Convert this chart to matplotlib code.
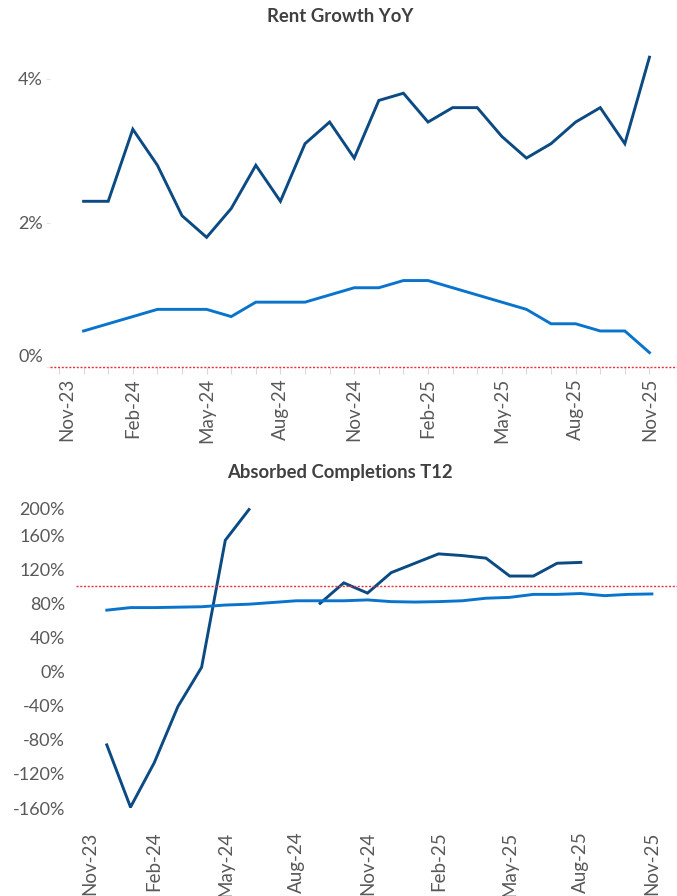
import numpy as np
import matplotlib.pyplot as plt
from matplotlib.transforms import ScaledTranslation

plt.rcParams['font.family'] = ['Lato', 'DejaVu Sans']

nan = np.nan

# categories, Nov-23 .. Nov-25
months = ["Nov-23", "Dec-23", "Jan-24", "Feb-24", "Mar-24", "Apr-24", "May-24",
          "Jun-24", "Jul-24", "Aug-24", "Sep-24", "Oct-24", "Nov-24", "Dec-24",
          "Jan-25", "Feb-25", "Mar-25", "Apr-25", "May-25", "Jun-25", "Jul-25",
          "Aug-25", "Sep-25", "Oct-25", "Nov-25"]

# Rent growth YoY (%)
rent_dark = [nan, 2.3, 2.3, 3.3, 2.8, 2.1, 1.8, 2.2, 2.8, 2.3, 3.1, 3.4, 2.9,
             3.7, 3.8, 3.4, 3.6, 3.6, 3.2, 2.9, 3.1, 3.4, 3.6, 3.1, 4.3]
rent_light = [nan, 0.5, 0.6, 0.7, 0.8, 0.8, 0.8, 0.7, 0.9, 0.9, 0.9, 1.0, 1.1,
              1.1, 1.2, 1.2, 1.1, 1.0, 0.9, 0.8, 0.6, 0.6, 0.5, 0.5, 0.2]

# Absorbed completions T12 (%)
abs_dark = [nan, -86, -159, -107, -41, 5, 154, 190, nan, nan, 80, 104, 92,
            116, 127, 138, 136, 133, 112, 112, 127, 128, nan, nan, nan]
abs_light = [nan, 72, 75, 75, 75.5, 76, 78, 79, 81, 83, 83, 83, 84,
             82, 81.5, 82, 83, 86, 87, 90.5, 90.5, 91.5, 89, 90.5, 91]

rent_yticks = [0, 2, 4]
abs_yticks = [-160, -120, -80, -40, 0, 40, 80, 120, 160, 200]

dark = "#0B4A82"
light = "#0A74CC"
red = "#E8303F"
grey = "#595959"

x = np.arange(len(months))
label_idx = list(range(0, len(months), 3))

fig = plt.figure(figsize=(6.77, 8.96), dpi=100)


def shift_label(lab, dx, dy):
    lab.set_transform(lab.get_transform() + ScaledTranslation(dx / 100, dy / 100, fig.dpi_scale_trans))


# ---- top: rent growth
ax1 = fig.add_axes([50 / 677, 1 - 367 / 896, 627 / 677, 317 / 896])
ax1.plot(x, rent_dark, color=dark, lw=2.1, solid_joinstyle='miter')
ax1.plot(x, rent_light, color=light, lw=2.1, solid_joinstyle='miter')
ax1.axhline(0, color=red, lw=1.0, ls=(0, (1.5, 1.2)), zorder=3, clip_on=False)
ax1.set_xlim(-0.366, 25.12)
ax1.set_ylim(0, 4.4)
ax1.set_yticks(rent_yticks)
ax1.set_yticklabels([f"{v}%" for v in rent_yticks])
ax1.set_xticks(x, minor=True)
ax1.set_xticks(label_idx)
ax1.set_xticklabels([months[i] for i in label_idx], rotation=90)
for s in ax1.spines.values():
    s.set_visible(False)
ax1.tick_params(axis='x', which='both', length=5, color="#D9D9D9", width=0.8,
                labelsize=13.5, labelcolor=grey, pad=3)
ax1.tick_params(axis='y', length=3, color="#E6E6E6", labelsize=13, labelcolor=grey, pad=2)
shift_label(ax1.get_yticklabels()[0], 0, 12)
shift_label(ax1.get_xticklabels()[0], 8, 0)
fig.text(0.502, 1 - 17 / 896, "Rent Growth YoY", ha='center', va='center',
         fontsize=13.3, fontweight='bold', color="#404040")

# ---- bottom: absorbed completions
ax2 = fig.add_axes([76 / 677, 1 - 808 / 896, 601 / 677, 307 / 896])
ax2.plot(x, abs_dark, color=dark, lw=2.1, solid_joinstyle='miter')
ax2.plot(x, abs_light, color=light, lw=2.1)
ax2.axhline(100, color=red, lw=1.0, ls=(0, (1.5, 1.2)), zorder=3)
ax2.set_xlim(-0.3, 25.06)
ax2.set_ylim(-160, 200)
ax2.set_yticks(abs_yticks)
ax2.set_yticklabels([f"{v}%" for v in abs_yticks])
ax2.set_xticks(label_idx)
ax2.set_xticklabels([months[i] for i in label_idx], rotation=90)
for s in ax2.spines.values():
    s.set_visible(False)
ax2.tick_params(axis='x', length=0, labelsize=13.5, labelcolor=grey, pad=17)
ax2.tick_params(axis='y', length=0, labelsize=13, labelcolor=grey, pad=8)
shift_label(ax2.get_yticklabels()[-1], 0, -7)
shift_label(ax2.get_xticklabels()[0], 7, 0)
fig.text(0.502, 1 - 472 / 896, "Absorbed Completions T12", ha='center', va='center',
         fontsize=13.3, fontweight='bold', color="#404040")

fig.savefig("out.png", dpi=100)
